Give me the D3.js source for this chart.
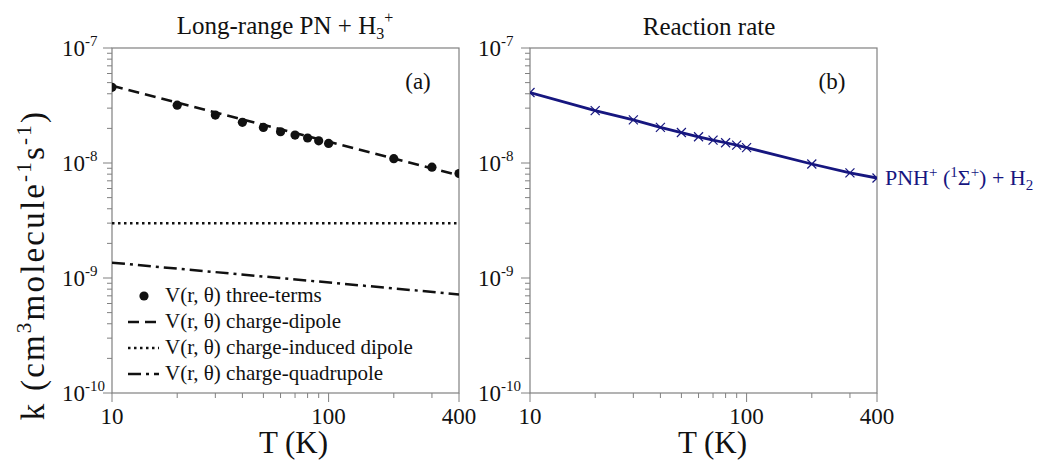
<!DOCTYPE html>
<html>
<head>
<meta charset="utf-8">
<script src="https://cdn.jsdelivr.net/npm/d3@7"></script>
<style>
  body { margin: 0; background: #fff; }
</style>
</head>
<body>
<svg id="chart"></svg>
<script>
let width = 1041, height = 461;

// temperatures (K) of the computed points
const temps = [10, 20, 30, 40, 50, 60, 70, 80, 90, 100, 200, 300, 400];
// panel (a): full potential, three terms
const kThreeTerms = [4.55e-8, 3.18e-8, 2.61e-8, 2.26e-8, 2.04e-8, 1.87e-8, 1.75e-8, 1.65e-8, 1.56e-8, 1.48e-8, 1.09e-8, 9.2e-9, 8.1e-9];
// panel (a): single-term models (straight on log-log, end values)
const lineTemps = [10, 400];
const kDipole = [4.7e-8, 7.8e-9];
const kInduced = [3.0e-9, 3.0e-9];
const kQuadrupole = [1.36e-9, 7.2e-10];
// panel (b): reaction rate PNH+ + H2
const kRate = [4.1e-8, 2.85e-8, 2.37e-8, 2.04e-8, 1.84e-8, 1.69e-8, 1.58e-8, 1.50e-8, 1.43e-8, 1.36e-8, 9.8e-9, 8.2e-9, 7.4e-9];

const xTicks = [10, 100, 400];
const yTicks = [-7, -8, -9, -10];
const legendLabels = ["V(r, θ) three-terms", "V(r, θ) charge-dipole", "V(r, θ) charge-induced dipole", "V(r, θ) charge-quadrupole"];

let svg = d3.select("#chart")
  .attr("width", width)
  .attr("height", height);

let top_sp = 48, bottom_y = 393;
let navy = "#16167f";
let axisCol = "#808080";
let ink = "#111";

let yax = d3.scaleLog()
  .domain([1e-10, 1e-7])
  .range([bottom_y, top_sp]);

function makePanel(id, left, right, labelOffset, xlabShift) {
  let xax = d3.scaleLog()
    .domain([10, 400])
    .range([left, right]);
  let g = svg.append("g");

  svg.append("clipPath")
    .attr("id", id)
    .append("rect")
    .attr("x", left)
    .attr("y", top_sp)
    .attr("width", right - left)
    .attr("height", bottom_y - top_sp);

  // minor ticks
  let xMinor = [20, 30, 40, 50, 60, 70, 80, 90, 200, 300];
  g.selectAll(".xminor").data(xMinor).enter().append("line")
    .attr("x1", d => xax(d)).attr("x2", d => xax(d))
    .attr("y1", bottom_y).attr("y2", bottom_y + 5)
    .attr("stroke", axisCol).attr("stroke-width", 1);
  g.selectAll(".xmajor").data(xTicks).enter().append("line")
    .attr("x1", d => xax(d)).attr("x2", d => xax(d))
    .attr("y1", bottom_y).attr("y2", bottom_y + 9)
    .attr("stroke", axisCol).attr("stroke-width", 1);
  g.selectAll(".xlab").data(xTicks).enter().append("text")
    .attr("x", d => xax(d))
    .attr("y", bottom_y + 31)
    .attr("text-anchor", "middle")
    .attr("font-size", 23)
    .attr("fill", ink)
    .text(d => d);

  let yMinor = [];
  [-10, -9, -8].forEach(e => {
    for (let m = 2; m <= 9; m++) yMinor.push(m * Math.pow(10, e));
  });
  g.selectAll(".yminor").data(yMinor).enter().append("line")
    .attr("x1", left - 5).attr("x2", left)
    .attr("y1", d => yax(d)).attr("y2", d => yax(d))
    .attr("stroke", axisCol).attr("stroke-width", 1);
  g.selectAll(".ymajor").data(yTicks).enter().append("line")
    .attr("x1", left - 9).attr("x2", left)
    .attr("y1", d => yax(Math.pow(10, d))).attr("y2", d => yax(Math.pow(10, d)))
    .attr("stroke", axisCol).attr("stroke-width", 1);
  let yl = g.selectAll(".ylab").data(yTicks).enter().append("text")
    .attr("x", left - labelOffset)
    .attr("y", d => yax(Math.pow(10, d)) + 8)
    .attr("font-size", 23)
    .attr("fill", ink);
  yl.append("tspan").text("10");
  yl.append("tspan").attr("dy", -10).attr("font-size", 15).text(d => "-" + Math.abs(d));

  // frame
  g.append("rect")
    .attr("x", left).attr("y", top_sp)
    .attr("width", right - left).attr("height", bottom_y - top_sp)
    .attr("fill", "none").attr("stroke", axisCol).attr("stroke-width", 1.2);

  // x label
  g.append("text")
    .attr("x", (left + right) / 2 + xlabShift)
    .attr("y", 453)
    .attr("text-anchor", "middle")
    .attr("font-size", 31)
    .attr("fill", ink)
    .text("T (K)");

  return {xax: xax, g: g};
}

// ---------- panel (a)
let pa = makePanel("clipA", 112, 459, 50, 8);
let xa = pa.xax;
let lineA = d3.line().x(d => xa(d[0])).y(d => yax(d[1]));

let styles = [
  {data: kDipole, dash: "11,6"},
  {data: kInduced, dash: "2.5,3.5"},
  {data: kQuadrupole, dash: "13,5,3,5"}
];
styles.forEach(s => {
  pa.g.append("path")
    .attr("d", lineA(d3.zip(lineTemps, s.data)))
    .attr("fill", "none")
    .attr("stroke", ink)
    .attr("stroke-width", 2.5)
    .attr("stroke-dasharray", s.dash)
    .attr("clip-path", "url(#clipA)");
});

pa.g.selectAll(".dot").data(d3.zip(temps, kThreeTerms)).enter().append("circle")
  .attr("cx", d => xa(d[0]))
  .attr("cy", d => yax(d[1]))
  .attr("r", 4.6)
  .attr("fill", ink)
  .attr("clip-path", "url(#clipA)");

pa.g.append("text")
  .attr("x", 418).attr("y", 89)
  .attr("text-anchor", "middle")
  .attr("font-size", 23)
  .attr("fill", ink)
  .text("(a)");

let title = svg.append("text")
  .attr("x", 285).attr("y", 34)
  .attr("text-anchor", "middle")
  .attr("font-size", 25)
  .attr("fill", ink);
title.append("tspan").text("Long-range PN + H");
title.append("tspan").attr("dy", 5).attr("font-size", 16).text("3");
title.append("tspan").attr("dy", -16).attr("font-size", 16).text("+");

// legend
let legY = [296, 322, 348, 374];
let leg = svg.append("g");
leg.append("circle").attr("cx", 144).attr("cy", legY[0]).attr("r", 4.6).attr("fill", ink);
styles.forEach((s, i) => {
  leg.append("line")
    .attr("x1", 128).attr("x2", 159)
    .attr("y1", legY[i + 1]).attr("y2", legY[i + 1])
    .attr("stroke", ink).attr("stroke-width", 2.5)
    .attr("stroke-dasharray", s.dash);
});
leg.selectAll(".lt").data(legendLabels).enter().append("text")
  .attr("x", 165)
  .attr("y", (d, i) => legY[i] + 6)
  .attr("font-size", 21)
  .attr("fill", ink)
  .text(d => d);

// y label
let ylab = svg.append("text")
  .attr("transform", "translate(44, 265) rotate(-90)")
  .attr("text-anchor", "middle")
  .attr("font-size", 33)
  .attr("letter-spacing", 2.2)
  .attr("fill", ink);
ylab.append("tspan").text("k (cm");
ylab.append("tspan").attr("dy", -13).attr("font-size", 21).text("3");
ylab.append("tspan").attr("dy", 13).text("molecule");
ylab.append("tspan").attr("dy", -13).attr("font-size", 21).text("-1");
ylab.append("tspan").attr("dy", 13).text("s");
ylab.append("tspan").attr("dy", -13).attr("font-size", 21).text("-1");
ylab.append("tspan").attr("dy", 13).text(")");

// ---------- panel (b)
let pb = makePanel("clipB", 530, 877, 52, 9);
let xb = pb.xax;
let lineB = d3.line().x(d => xb(d[0])).y(d => yax(d[1]));
let rateData = d3.zip(temps, kRate);

pb.g.append("path")
  .attr("d", lineB(rateData))
  .attr("fill", "none")
  .attr("stroke", navy)
  .attr("stroke-width", 2.8)
  .attr("clip-path", "url(#clipB)");

// x markers
let cs = 4.5;
let crosses = pb.g.append("g").attr("clip-path", "url(#clipB)")
  .selectAll(".cross").data(rateData).enter().append("g")
  .attr("transform", d => `translate(${xb(d[0])}, ${yax(d[1])})`);
crosses.append("line").attr("x1", -cs).attr("y1", -cs).attr("x2", cs).attr("y2", cs)
  .attr("stroke", navy).attr("stroke-width", 1.2);
crosses.append("line").attr("x1", -cs).attr("y1", cs).attr("x2", cs).attr("y2", -cs)
  .attr("stroke", navy).attr("stroke-width", 1.2);

pb.g.append("text")
  .attr("x", 832).attr("y", 89)
  .attr("text-anchor", "middle")
  .attr("font-size", 23)
  .attr("fill", ink)
  .text("(b)");

svg.append("text")
  .attr("x", 709).attr("y", 35)
  .attr("text-anchor", "middle")
  .attr("font-size", 25)
  .attr("fill", ink)
  .text("Reaction rate");

let prod = svg.append("text")
  .attr("x", 885).attr("y", yax(kRate[kRate.length - 1]) + 7)
  .attr("font-size", 22)
  .attr("fill", navy);
prod.append("tspan").text("PNH");
prod.append("tspan").attr("dy", -8).attr("font-size", 15).text("+");
prod.append("tspan").attr("dy", 8).text(" (");
prod.append("tspan").attr("dy", -8).attr("font-size", 15).text("1");
prod.append("tspan").attr("dy", 8).text("Σ");
prod.append("tspan").attr("dy", -8).attr("font-size", 15).text("+");
prod.append("tspan").attr("dy", 8).text(") + H");
prod.append("tspan").attr("dy", 5).attr("font-size", 15).text("2");

// serif face on every label
svg.selectAll("text, tspan").style("font-family", '"Liberation Serif"');
</script>
</body>
</html>
